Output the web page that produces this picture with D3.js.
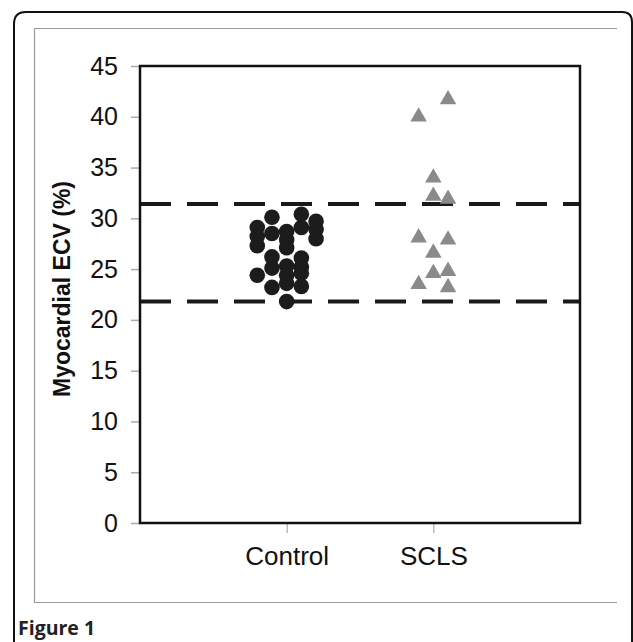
<!DOCTYPE html>
<html><head><meta charset="utf-8">
<script src="https://cdn.jsdelivr.net/npm/d3@7"></script>
<style>body{margin:0;background:#fff}svg{display:block}</style>
</head><body>
<script>
const categories = ["Control", "SCLS"];
const yTicks = [0, 5, 10, 15, 20, 25, 30, 35, 40, 45];
const referenceLines = [31.4, 21.8];
// jitter column (-2..2) and ECV value for each subject
const controlCols = [-2,-2,-2,-2, -1,-1,-1,-1,-1, 0,0,0,0,0,0,0, 1,1,1,1,1,1, 2,2,2];
const controlVals = [29.1,28.2,27.3,24.4, 30.1,28.5,26.2,25.1,23.2, 28.7,27.9,27.1,25.3,24.4,23.6,21.8, 30.4,29.1,26.1,25.2,24.6,23.3, 29.7,28.9,28.0];
const sclsCols = [1,-1,0,0,1,-1,1,0,0,1,-1,1];
const sclsVals = [41.7,40.0,34.0,32.2,31.9,28.1,27.9,26.6,24.6,24.8,23.5,23.2];

const W = 633, H = 642;
const svg = d3.select("body").append("svg").attr("width", W).attr("height", H);
const font = "'Liberation Sans', Arial, sans-serif";

// outer figure frame
svg.append("path")
  .attr("d", "M14,660 L14,24 Q14,12 26,12 L622,12 Q632,12 632,22 L632,660")
  .attr("fill", "none").attr("stroke", "#111").attr("stroke-width", 2);
// inner gray box
svg.append("path")
  .attr("d", "M617,28.5 L34.5,28.5 L34.5,602.5 L617,602.5")
  .attr("fill", "none").attr("stroke", "#9a9a9a").attr("stroke-width", 1.2);

svg.append("text").attr("x", 18).attr("y", 635)
  .attr("font-family", "'Open Sans', 'Noto Sans', sans-serif").attr("font-weight", 700)
  .attr("font-size", 19.5).attr("fill", "#222").text("Figure 1");

const L = 140, R = 580, T = 66, B = 523;
const x = d3.scalePoint().domain(categories).range([L, R]).padding(1);
const y = d3.scaleLinear().domain([0, 45]).range([B, T]);
const jit = d3.scaleLinear().domain([-1, 1]).range([-14.7, 14.7]);

// y axis
const yAxis = svg.append("g").attr("transform", `translate(${L},0)`)
  .call(d3.axisLeft(y).tickValues(yTicks).tickSize(9).tickPadding(13));
yAxis.select(".domain").remove();
yAxis.selectAll(".tick line").attr("stroke", "#aaa").attr("stroke-width", 1.5);
yAxis.selectAll(".tick text").attr("font-family", font).attr("font-size", 25).attr("fill", "#111");

// x axis
const xAxis = svg.append("g").attr("transform", `translate(0,${B})`)
  .call(d3.axisBottom(x).tickSize(10).tickPadding(14));
xAxis.select(".domain").remove();
xAxis.selectAll(".tick line").attr("stroke", "#aaa").attr("stroke-width", 1.2);
xAxis.selectAll(".tick text").attr("font-family", font).attr("font-size", 26).attr("fill", "#111");

// reference lines
svg.selectAll(".ref").data(referenceLines).join("line")
  .attr("x1", L).attr("x2", R).attr("y1", d => y(d)).attr("y2", d => y(d))
  .attr("stroke", "#1a1a1a").attr("stroke-width", 4).attr("stroke-dasharray", "31,16");

// control points
svg.selectAll(".ctrl").data(controlVals).join("circle")
  .attr("cx", (d, i) => x("Control") + jit(controlCols[i]))
  .attr("cy", d => y(d)).attr("r", 7.8).attr("fill", "#1c1c1c");

// SCLS points
const tri = d3.symbol().type(d3.symbolTriangle).size(118);
svg.selectAll(".scls").data(sclsVals).join("path")
  .attr("d", tri)
  .attr("transform", (d, i) => `translate(${x("SCLS") + jit(sclsCols[i])},${y(d)})`)
  .attr("fill", "#8a8a8a");

// plot frame
svg.append("rect").attr("x", L).attr("y", T).attr("width", R - L).attr("height", B - T)
  .attr("fill", "none").attr("stroke", "#111").attr("stroke-width", 2.5);

// y label
svg.append("text").attr("transform", `translate(70,289) rotate(-90)`)
  .attr("text-anchor", "middle").attr("font-family", font).attr("font-weight", 700)
  .attr("font-size", 23).attr("fill", "#111").text("Myocardial ECV (%)");
</script>
</body></html>
